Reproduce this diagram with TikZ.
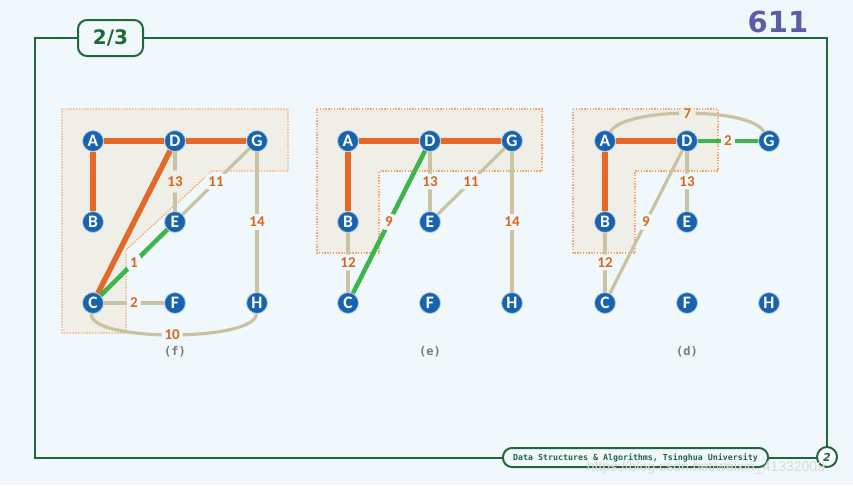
\documentclass[tikz,border=0pt]{standalone}
\usepackage{fontspec}
\setmainfont{DejaVu Sans}
\newfontfamily\monof{DejaVu Sans Mono}
\newfontfamily\nodef{Carlito}
\newfontfamily\wmf{Liberation Sans}
\definecolor{bgc}{HTML}{F1F8FC}
\definecolor{framec}{HTML}{22673A}
\definecolor{regc}{HTML}{F0EFE7}
\definecolor{regb}{HTML}{F5A86E}
\definecolor{orangeE}{HTML}{E2692A}
\definecolor{greenE}{HTML}{3DB44C}
\definecolor{grayE}{HTML}{C9C3A3}
\definecolor{nodeblue}{HTML}{1763AD}
\definecolor{nodering}{HTML}{B8CCE0}
\definecolor{labelc}{HTML}{D9661F}
\definecolor{numc}{HTML}{5B5DA8}
\definecolor{capc}{HTML}{7A7A7A}
\tikzset{
 vtx/.style={circle, fill=nodeblue, draw=nodering, line width=0.8pt, minimum size=21pt, inner sep=0pt, text=white, font=\nodef\bfseries\fontsize{17.5}{17.5}\selectfont},
 treeedge/.style={draw=orangeE, line width=5.5pt},
 candedge/.style={draw=greenE, line width=4.5pt},
 otheredge/.style={draw=grayE, line width=3.2pt},
 lbl/.style={fill=bgc, text=labelc, inner sep=3pt, rounded corners=3pt, font=\nodef\bfseries\fontsize{15}{15}\selectfont},
 lblreg/.style={lbl, fill=regc, circle, inner sep=1.5pt},
 region/.style={fill=regc, draw=regb, line width=1.4pt, dash pattern=on 1.4pt off 1.4pt},
 captext/.style={text=capc, font=\monof\bfseries\fontsize{12}{12}\selectfont},
}
\newcommand\mkgraph[2]{%
 \node[vtx] (#1A) at (93+#2,141) {A};
 \node[vtx] (#1D) at (175+#2,141) {D};
 \node[vtx] (#1G) at (257+#2,141) {G};
 \node[vtx] (#1B) at (93+#2,222) {B};
 \node[vtx] (#1E) at (175+#2,222) {E};
 \node[vtx] (#1C) at (93+#2,303) {C};
 \node[vtx] (#1F) at (175+#2,303) {F};
 \node[vtx] (#1H) at (257+#2,303) {H};
}
\begin{document}
\begin{tikzpicture}[x=1pt,y=-1pt]
\useasboundingbox[fill=bgc] (0,0) rectangle (853,485);
% frame
\draw[framec, line width=2pt] (78,38) -- (35,38) -- (35,458) -- (503,458);
\draw[framec, line width=2pt] (143,38) -- (827,38) -- (827,447);
\draw[framec, line width=2pt] (768,458) -- (817,458);
\node[draw=framec, line width=2pt, fill=bgc, rounded corners=9pt, minimum width=65pt, minimum height=36pt, text=framec, font=\bfseries\fontsize{20}{20}\selectfont] (tab) at (110.5,38) {2/3};
\node[text=numc, font=\bfseries\fontsize{29}{29}\selectfont] (pnum) at (778,22) {611};
\node[draw=framec, line width=2pt, fill=bgc, rounded corners=9pt, minimum width=265pt, minimum height=19pt, inner sep=0pt, text=framec, font=\monof\bfseries\fontsize{8.3}{8.3}\selectfont] (foot) at (635.5,457.5) {Data Structures \& Algorithms, Tsinghua University};
\node[circle, draw=framec, line width=2pt, fill=white, minimum size=20pt, inner sep=0pt, text=framec, font=\bfseries\itshape\fontsize{11}{11}\selectfont] (icon) at (827,457) {2};
\node[text=black!15, font=\wmf\fontsize{14}{14}\selectfont] (wm) at (706,468) {https://blog.csdn.net/weixin\_41332009};
% regions
\draw[region] (62,109) -- (288,109) -- (288,171) -- (212,171) -- (126,250) -- (126,333) -- (62,333) -- cycle;
\draw[region] (317,109) -- (542,109) -- (542,171) -- (379,171) -- (379,253) -- (317,253) -- cycle;
\draw[region] (573,109) -- (718,109) -- (718,171) -- (635,171) -- (635,253) -- (573,253) -- cycle;
% nodes
\mkgraph{f}{0}
\mkgraph{e}{255}
\mkgraph{d}{512}
% graph (f)
\draw[otheredge] (fD) -- node[lblreg]{13} (fE);
\draw[otheredge] (fG) -- node[lbl]{11} (fE);
\draw[otheredge] (fG) -- node[lbl]{14} (fH);
\draw[otheredge] (fC) -- node[lbl]{2} (fF);
\draw[otheredge] (fC) .. controls (88,342) and (255,342) .. node[lbl, pos=0.5]{10} (fH);
\draw[treeedge] (fA) -- (fD);
\draw[treeedge] (fD) -- (fG);
\draw[treeedge] (fA) -- (fB);
\draw[treeedge] (fD) -- (fC);
\draw[candedge] (fC) -- node[lbl]{1} (fE);
% graph (e)
\draw[otheredge] (eD) -- node[lbl]{13} (eE);
\draw[otheredge] (eG) -- node[lbl]{11} (eE);
\draw[otheredge] (eG) -- node[lbl]{14} (eH);
\draw[otheredge] (eB) -- node[lbl]{12} (eC);
\draw[treeedge] (eA) -- (eD);
\draw[treeedge] (eD) -- (eG);
\draw[treeedge] (eA) -- (eB);
\draw[candedge] (eD) -- node[lbl]{9} (eC);
% graph (d)
\draw[otheredge] (dA) .. controls (625,107) and (750,107) .. node[lblreg, pos=0.5]{7} (dG);
\draw[otheredge] (dB) -- node[lbl]{12} (dC);
\draw[otheredge] (dD) -- node[lbl]{9} (dC);
\draw[otheredge] (dD) -- node[lbl]{13} (dE);
\draw[treeedge] (dA) -- (dD);
\draw[treeedge] (dA) -- (dB);
\draw[candedge] (dD) -- node[lbl]{2} (dG);
% captions
\node[captext] (capf) at (175,352) {(f)};
\node[captext] (cape) at (430,352) {(e)};
\node[captext] (capd) at (687,352) {(d)};
\end{tikzpicture}
\end{document}
